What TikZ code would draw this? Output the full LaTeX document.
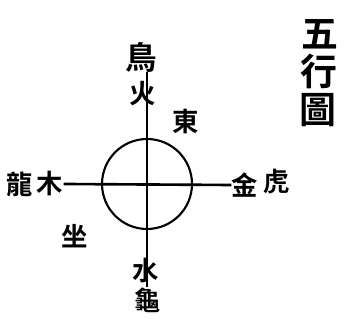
\documentclass[tikz,border=0pt]{standalone}
\usepackage{fontspec}
\newfontfamily\cjk{Noto Sans CJK TC}[BoldFont={Noto Sans CJK TC Bold}]
\usetikzlibrary{positioning}
\tikzset{
  glyph/.style={font=\cjk\bfseries\fontsize{15}{15}\selectfont, inner sep=0pt},
  title/.style={font=\cjk\bfseries\fontsize{21}{21}\selectfont, inner sep=0pt},
  axis/.style={line width=1.5pt, black}
}

\begin{document}
\begin{tikzpicture}[x=0.02cm, y=-0.02cm]
  \useasboundingbox (0,0) rectangle (355,323);

  % Title
  \node[title] (wu)   at (320,34)  {五};
  \node[title] (xing) at (319,72)  {行};
  \node[title] (tu)   at (318,110) {圖};

  % Centre
  \node[draw, circle, line width=1.2pt, inner sep=0pt, minimum size=1.8cm] (earth) at (147,184) {};

  % South (top)
  \node[glyph, scale=1.2] (bird) at (141,57)  {鳥};
  \node[glyph] (fire) at (143,94)  {火};
  % North (bottom)
  \node[glyph] (water)  at (146,271) {水};
  \node[glyph] (turtle) at (148,300) {龜};
  % East (left)
  \node[glyph] (dragon) at (20,184) {龍};
  \node[glyph] (wood)   at (50,184) {木};
  % West (right)
  \node[glyph] (metal) at (245,185) {金};
  \node[glyph] (tiger) at (277,182) {虎};

  % Others
  \node[glyph] (dong) at (186,122) {東};
  \node[glyph] (zuo)  at (75,236)  {坐};

  % Axes
  \draw[axis] (bird.south -| earth) -- (turtle.north -| earth);
  \draw[axis] (wood.east) -- (metal.west);
\end{tikzpicture}
\end{document}
